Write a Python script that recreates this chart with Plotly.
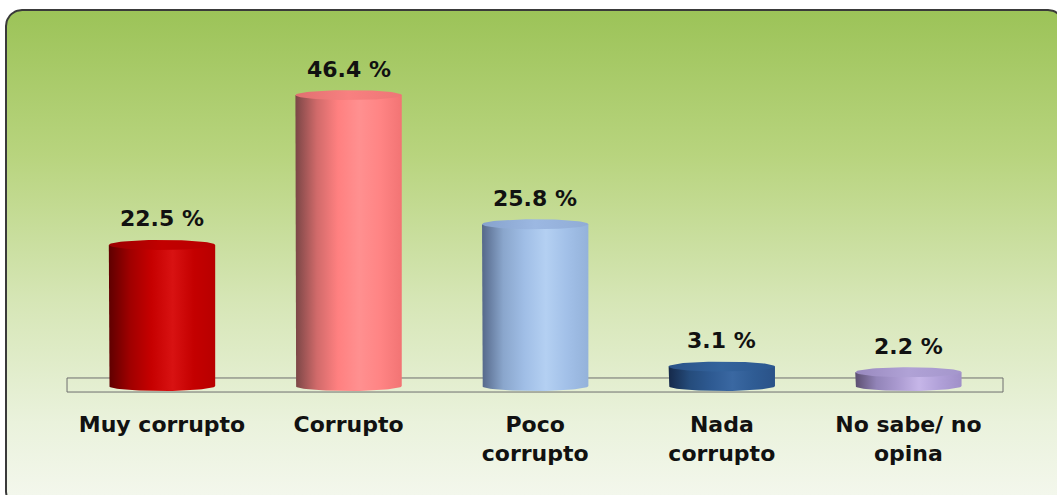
import numpy as np
import plotly.graph_objects as go

# ---- data ----
categories = ["Muy corrupto", "Corrupto", "Poco<br>corrupto", "Nada<br>corrupto", "No sabe/ no<br>opina"]
values = [22.5, 46.4, 25.8, 3.1, 2.2]
value_labels = ["22.5 %", "46.4 %", "25.8 %", "3.1 %", "2.2 %"]

# body gradient stops (left dark -> highlight -> right)
body_colors = [
    ["#5e0000", "#a00000", "#c60000", "#d81212", "#c40000", "#b80000"],
    ["#7a4646", "#d06a6a", "#ff8080", "#ff9090", "#ff8484", "#f27474"],
    ["#55688a", "#8aa6cc", "#a0bee6", "#b4d0f2", "#a2c0e8", "#94b2da"],
    ["#15294a", "#254c7c", "#2e5a92", "#3a68a2", "#2f5c94", "#2a5288"],
    ["#5c4f70", "#9284b8", "#aa9ad0", "#c6b6e8", "#b0a0d8", "#a090c8"],
]
cap_colors = [
    ["#9a0000", "#c20000", "#b80000"],
    ["#e07070", "#f88080", "#ee7676"],
    ["#86a2cc", "#9cb8e2", "#90acd6"],
    ["#2a5288", "#33639c", "#2c5890"],
    ["#9888be", "#b0a2d6", "#a496cc"],
]

W, H = 1057, 495
half_w = 0.285      # half bar width in category units
ell = 0.8           # ellipse vertical semi-axis (value units)

fig = go.Figure()

# ---- background rounded panel (pixel coordinates on x/y) ----
x0, x1, y0, y1, r = 6, 1064, 10, 508, 16
pts_x, pts_y = [], []
def arc(cx, cy, a0, a1):
    t = np.linspace(a0, a1, 12)
    pts_x.extend(cx + r * np.cos(t))
    pts_y.extend(cy - r * np.sin(t))
arc(x1 - r, y0 + r, 0, np.pi / 2)
arc(x0 + r, y0 + r, np.pi / 2, np.pi)
arc(x0 + r, y1 - r, np.pi, 1.5 * np.pi)
arc(x1 - r, y1 - r, 1.5 * np.pi, 2 * np.pi)
pts_x.append(pts_x[0]); pts_y.append(pts_y[0])
fig.add_trace(go.Scatter(
    x=pts_x, y=pts_y, mode="lines", fill="toself",
    line=dict(color="#3a3a3a", width=2),
    fillgradient=dict(type="vertical", start=10, stop=495,
                      colorscale=[[0, "#9cc358"], [0.3, "#b8d47e"], [0.6, "#d6e6b6"],
                                  [0.85, "#eaf2dc"], [1, "#f3f7ec"]]),
    xaxis="x", yaxis="y", hoverinfo="skip", showlegend=False,
))

# ---- cylinders (x2/y2) ----
for i, (v, bc, cc) in enumerate(zip(values, body_colors, cap_colors)):
    c = i
    t = np.linspace(np.pi, 2 * np.pi, 40)
    bx = list(c + half_w * np.cos(t))
    by = list(0 + ell * np.sin(t))
    xs = [c - half_w] + bx + [c + half_w, c - half_w]
    ys = [v] + by + [v, v]
    n = len(bc)
    fig.add_trace(go.Scatter(
        x=xs, y=ys, mode="lines", fill="toself", line=dict(width=0),
        fillgradient=dict(type="horizontal", start=c - half_w, stop=c + half_w,
                          colorscale=[[k / (n - 1), col] for k, col in enumerate(bc)]),
        xaxis="x2", yaxis="y2", hoverinfo="skip", showlegend=False,
    ))
    tt = np.linspace(0, 2 * np.pi, 80)
    fig.add_trace(go.Scatter(
        x=c + half_w * np.cos(tt), y=v + ell * np.sin(tt), mode="lines", fill="toself",
        line=dict(width=0),
        fillgradient=dict(type="horizontal", start=c - half_w, stop=c + half_w,
                          colorscale=[[k / 2, col] for k, col in enumerate(cc)]),
        xaxis="x2", yaxis="y2", hoverinfo="skip", showlegend=False,
    ))
    fig.add_annotation(x=c, y=v + ell, xref="x2", yref="y2", text=value_labels[i],
                       showarrow=False, yshift=21,
                       font=dict(family="DejaVu Sans", size=22, color="#111111", weight="bold"))

# floor plate
fig.add_shape(type="rect", xref="x2", yref="y2", x0=-0.509, x1=4.507, y0=-0.96, y1=1.28,
              line=dict(color="#6e6e6e", width=1), fillcolor="rgba(0,0,0,0)", layer="below")

px_per = 6.27
plot_top, plot_bot = 30, 400
zero_px = 386
ymin = -(plot_bot - zero_px) / px_per
ymax = ymin + (plot_bot - plot_top) / px_per
unit = 186.6
c0 = 162
xl, xr = -0.55, 4.55

fig.update_layout(
    width=W, height=H, margin=dict(l=0, r=0, t=0, b=0),
    paper_bgcolor="white", plot_bgcolor="rgba(0,0,0,0)",
    showlegend=False,
    xaxis=dict(domain=[0, 1], range=[0, W], visible=False, fixedrange=True),
    yaxis=dict(domain=[0, 1], range=[H, 0], visible=False, fixedrange=True),
    xaxis2=dict(domain=[(c0 + xl * unit) / W, (c0 + xr * unit) / W], range=[xl, xr], anchor="y2",
                tickvals=list(range(len(categories))), ticktext=categories,
                showgrid=False, zeroline=False, showline=False, ticks="",
                ticklabelstandoff=9,
                tickfont=dict(family="DejaVu Sans", size=22, color="#111111", weight="bold"),
                fixedrange=True),
    yaxis2=dict(domain=[1 - plot_bot / H, 1 - plot_top / H], range=[ymin, ymax], anchor="x2",
                visible=False, fixedrange=True),
)

fig.write_html("out.html", config={"displayModeBar": False},
               post_script="document.body.style.margin='0';document.body.style.overflow='hidden';")
